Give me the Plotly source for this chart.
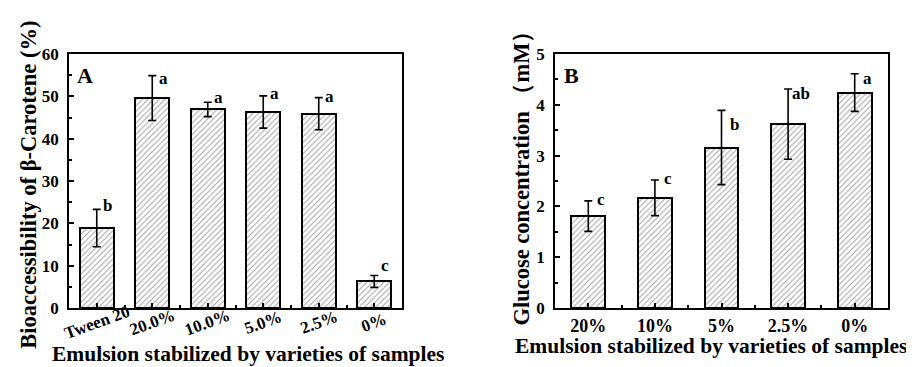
import plotly.graph_objects as go

# ---- data ----
cats_a = ["Tween 20", "20.0%", "10.0%", "5.0%", "2.5%", "0%"]
vals_a = [18.9, 49.6, 46.9, 46.3, 45.9, 6.3]
errs_a = [4.4, 5.3, 1.7, 3.8, 3.8, 1.4]
sig_a = ["b", "a", "a", "a", "a", "c"]

cats_b = ["20%", "10%", "5%", "2.5%", "0%"]
vals_b = [1.81, 2.17, 3.16, 3.62, 4.24]
errs_b = [0.30, 0.35, 0.73, 0.69, 0.37]
sig_b = ["c", "c", "b", "ab", "a"]

FONT = '"Liberation Serif", "Times New Roman", serif'
W, H = 914, 367

def px_x(p):
    return p / W

def px_y(p):
    return (H - p) / H

fig = go.Figure()

pattern = dict(shape="/", size=4, solidity=0.25, fgcolor="#444444", bgcolor="white")

xa = list(range(len(cats_a)))
xb = list(range(len(cats_b)))

fig.add_trace(go.Bar(
    x=xa, y=vals_a, width=0.62,
    marker=dict(color="white", line=dict(color="black", width=2), pattern=pattern),
    error_y=dict(type="data", array=errs_a, color="black", thickness=1.6, width=4),
    xaxis="x", yaxis="y", showlegend=False,
))
fig.add_trace(go.Bar(
    x=xb, y=vals_b, width=0.51,
    marker=dict(color="white", line=dict(color="black", width=2), pattern=pattern),
    error_y=dict(type="data", array=errs_b, color="black", thickness=1.6, width=4),
    xaxis="x2", yaxis="y2", showlegend=False,
))

tickfont = dict(family=FONT, size=17, color="black", weight="bold")
xtickfont_b = dict(family=FONT, size=18, color="black", weight="bold")
ydom = [px_y(307), px_y(39)]

axis_common = dict(
    showline=True, linecolor="black", linewidth=1.8, mirror=True,
    ticks="inside", ticklen=5, tickwidth=1.5, tickcolor="black",
    showgrid=False, zeroline=False,
)

fig.update_layout(
    width=W, height=H,
    margin=dict(l=0, r=0, t=0, b=0),
    paper_bgcolor="white", plot_bgcolor="white",
    bargap=0,
    xaxis=dict(domain=[px_x(61), px_x(394)], range=[-0.5, len(cats_a) - 0.5],
               tickvals=xa, ticktext=[""] * len(cats_a), anchor="y", tickfont=tickfont,
               minor=dict(tickvals=[i + 0.5 for i in xa[:-1]], ticks="inside", ticklen=3,
                          tickcolor="black", tickwidth=1.5),
               **axis_common),
    yaxis=dict(domain=ydom, range=[0, 60], dtick=10, anchor="x", tickfont=tickfont,
               ticklabelstandoff=5,
               minor=dict(dtick=5, ticks="inside", ticklen=3, tickcolor="black", tickwidth=1.5),
               **axis_common),
    xaxis2=dict(domain=[px_x(547), px_x(880)], range=[-0.5, len(cats_b) - 0.5],
                tickvals=xb, ticktext=cats_b, anchor="y2", ticklabelstandoff=0,
                tickfont=xtickfont_b,
                minor=dict(tickvals=[i + 0.5 for i in xb[:-1]], ticks="inside", ticklen=3,
                           tickcolor="black", tickwidth=1.5),
                **axis_common),
    yaxis2=dict(domain=ydom, range=[0, 5], dtick=1, anchor="x2", tickfont=tickfont,
                ticklabelstandoff=5,
                minor=dict(dtick=0.5, ticks="inside", ticklen=3, tickcolor="black", tickwidth=1.5),
                **axis_common),
)

ann = []
letter_font = dict(family=FONT, size=17, color="black", weight="bold")
# rotated category labels for panel A
for i, c in enumerate(cats_a):
    ann.append(dict(x=i, y=px_y(322), xref="x", yref="paper", text=c, showarrow=False,
                    textangle=-20, font=tickfont, xanchor="center", yanchor="middle"))
# significance letters
dy_a = [4, -3, 5, 2, 1, 10]
for i, (v, e, s) in enumerate(zip(vals_a, errs_a, sig_a)):
    ann.append(dict(x=i, y=v + e, xref="x", yref="y", text=s, showarrow=False,
                    xshift=11, yshift=dy_a[i], font=letter_font, xanchor="center", yanchor="middle"))
dy_b = [1, 2, -14, -4, -5]
for i, (v, e, s) in enumerate(zip(vals_b, errs_b, sig_b)):
    ann.append(dict(x=i, y=v + e, xref="x2", yref="y2", text=s, showarrow=False,
                    xshift=13, yshift=dy_b[i], font=letter_font, xanchor="center", yanchor="middle"))
# panel letters
panel_font = dict(family=FONT, size=22, color="black", weight="bold")
ann.append(dict(x=px_x(77), y=px_y(62), xref="paper", yref="paper", text="A", showarrow=False,
                font=panel_font, xanchor="center", yanchor="middle"))
ann.append(dict(x=px_x(563), y=px_y(62), xref="paper", yref="paper", text="B", showarrow=False,
                font=panel_font, xanchor="center", yanchor="middle"))
# axis titles
title_font = dict(family=FONT, size=21.5, color="black", weight="bold")
ytitle_font = dict(family=FONT, size=22.5, color="black", weight="bold")
ann.append(dict(x=px_x(240), y=px_y(355), xref="paper", yref="paper",
                text="Emulsion stabilized by varieties of samples", showarrow=False,
                font=title_font, xanchor="center", yanchor="middle"))
ann.append(dict(x=px_x(703), y=px_y(347), xref="paper", yref="paper",
                text="Emulsion stabilized by varieties of samples", showarrow=False,
                font=title_font, xanchor="center", yanchor="middle"))
ann.append(dict(x=px_x(21), y=px_y(177), xref="paper", yref="paper",
                text="Bioaccessibility of β-Carotene (%)", showarrow=False, textangle=-90,
                font=ytitle_font, xanchor="center", yanchor="middle"))
ann.append(dict(x=px_x(514), y=px_y(164), xref="paper", yref="paper",
                text="Glucose concentration （mM）", showarrow=False, textangle=-90,
                font=ytitle_font, xanchor="center", yanchor="middle"))

fig.update_layout(annotations=ann)
fig.write_html("out.html")
